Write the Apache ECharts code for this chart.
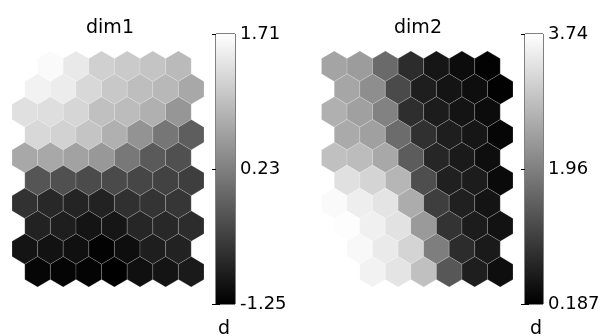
<!DOCTYPE html>
<html>
<head>
<meta charset="utf-8">
<script src="https://cdn.jsdelivr.net/npm/echarts@6/dist/echarts.min.js"></script>
<style>
  html, body { margin: 0; padding: 0; background: #fff; }
  #chart { width: 607px; height: 336px; }
</style>
</head>
<body>
<div id="chart"></div>
<script>
// component planes, rows top to bottom, 7 units per row (odd rows shifted right)
const dim1 = [
  [1.71, 1.652, 1.455, 1.164, 1.095, 1.025, 0.909],
  [1.559, 1.49, 1.257, 1.072, 0.956, 0.886, 0.70],
  [1.35, 1.327, 1.234, 0.979, 0.932, 0.793, 0.491],
  [1.257, 1.188, 1.025, 0.793, 0.456, 0.12, -0.159],
  [0.70, 0.70, 0.63, 0.514, 0.143, -0.205, -0.321],
  [-0.263, -0.321, -0.379, -0.391, -0.437, -0.484, -0.53],
  [-0.67, -0.786, -0.832, -0.855, -0.693, -0.646, -0.623],
  [-0.855, -0.902, -1.018, -0.995, -0.809, -0.786, -0.739],
  [-1.018, -1.041, -1.064, -1.215, -1.087, -0.902, -0.855],
  [-1.18, -1.192, -1.204, -1.25, -1.064, -1.018, -0.948]
]
const dim2 = [
  [2.472, 2.36, 1.664, 0.80, 0.494, 0.354, 0.229],
  [2.50, 2.165, 1.218, 0.605, 0.466, 0.382, 0.215],
  [2.639, 2.416, 1.998, 0.828, 0.577, 0.466, 0.354],
  [2.556, 2.416, 1.692, 0.856, 0.605, 0.494, 0.271],
  [2.862, 2.806, 2.528, 1.469, 0.716, 0.549, 0.382],
  [3.308, 3.141, 2.723, 1.274, 0.633, 0.577, 0.326],
  [3.67, 3.503, 3.364, 2.583, 1.051, 0.633, 0.466],
  [3.712, 3.531, 3.336, 2.333, 0.898, 0.577, 0.438],
  [3.74, 3.642, 3.447, 3.141, 1.943, 0.80, 0.549],
  [3.74, 3.559, 3.364, 2.862, 1.399, 0.605, 0.382]
]
const titles = ['dim1', 'dim2']
const cbar1Ticks = [-1.25, 0.23, 1.71]
const cbar1Labels = ['-1.25', '0.23', '1.71']
const cbar2Ticks = [0.187, 1.96, 3.74]
const cbar2Labels = ['0.187', '1.96', '3.74']
const cbarName = 'd'

const FONT = 'DejaVu Sans'

const toHexData = (plane) => {
  const out = []
  plane.forEach((row, r) => {
    row.forEach((v, c) => out.push([c + (r % 2 ? 0.5 : 0), r, v]))
  })
  return out
}

const hexItem = (params, api) => {
  const x = api.value(0)
  const y = api.value(1)
  const pts = [
    [x, y - 2 / 3], [x + 0.5, y - 1 / 3], [x + 0.5, y + 1 / 3],
    [x, y + 2 / 3], [x - 0.5, y + 1 / 3], [x - 0.5, y - 1 / 3]
  ].map((p) => api.coord(p))
  return {
    type: 'polygon',
    shape: { points: pts },
    style: { fill: api.visual('color'), stroke: 'rgba(255,255,255,0.22)', lineWidth: 0.8 }
  }
}

const barItem = (params, api) => {
  const p0 = api.coord([0, api.value(1)])
  const p1 = api.coord([1, api.value(0)])
  return {
    type: 'rect',
    shape: { x: p0[0], y: p0[1], width: p1[0] - p0[0], height: p1[1] - p0[1] },
    style: {
      fill: new echarts.graphic.LinearGradient(0, 0, 0, 1, [
        { offset: 0, color: '#ffffff' },
        { offset: 1, color: '#000000' }
      ])
    }
  }
}

const cbarAxes = (gridIndex, ticks, labels) => {
  const min = ticks[0]
  const max = ticks[ticks.length - 1]
  const common = {
    gridIndex,
    type: 'value',
    min,
    max,
    axisLine: { show: false },
    splitLine: { show: false },
    axisTick: { show: true, inside: true, length: 4, customValues: ticks, lineStyle: { color: '#000' } }
  }
  return [
    {
      ...common,
      position: 'right',
      axisLabel: {
        show: true,
        customValues: ticks,
        margin: 5,
        color: '#000',
        fontFamily: FONT,
        fontSize: 18,
        formatter: (v) => labels[ticks.indexOf(v)]
      }
    },
    { ...common, position: 'left', axisLabel: { show: false } }
  ]
}

const chart = echarts.init(document.getElementById('chart'))

const cb1 = cbarAxes(2, cbar1Ticks, cbar1Labels)
const cb2 = cbarAxes(3, cbar2Ticks, cbar2Labels)

chart.setOption({
  animation: false,
  backgroundColor: '#fff',
  title: [
    { text: titles[0], left: 105, top: 14, textAlign: 'center', textStyle: { fontFamily: FONT, fontSize: 19, fontWeight: 'normal', color: '#000' } },
    { text: titles[1], left: 413, top: 14, textAlign: 'center', textStyle: { fontFamily: FONT, fontSize: 19, fontWeight: 'normal', color: '#000' } },
    { text: cbarName, left: 219, top: 315, textAlign: 'center', textStyle: { fontFamily: FONT, fontSize: 19, fontWeight: 'normal', color: '#000' } },
    { text: cbarName, left: 531, top: 315, textAlign: 'center', textStyle: { fontFamily: FONT, fontSize: 19, fontWeight: 'normal', color: '#000' } }
  ],
  grid: [
    { left: 12, top: 51, width: 192, height: 236 },
    { left: 321.5, top: 51, width: 191.5, height: 236 },
    { left: 216, top: 34, width: 19, height: 270, show: true, borderColor: '#000', borderWidth: 1 },
    { left: 525, top: 34, width: 18, height: 270, show: true, borderColor: '#000', borderWidth: 1 }
  ],
  xAxis: [
    { gridIndex: 0, type: 'value', min: -0.5, max: 7, show: false },
    { gridIndex: 1, type: 'value', min: -0.5, max: 7, show: false },
    { gridIndex: 2, type: 'value', min: 0, max: 1, show: false },
    { gridIndex: 3, type: 'value', min: 0, max: 1, show: false }
  ],
  yAxis: [
    { gridIndex: 0, type: 'value', inverse: true, min: -2 / 3, max: 9 + 2 / 3, show: false },
    { gridIndex: 1, type: 'value', inverse: true, min: -2 / 3, max: 9 + 2 / 3, show: false },
    cb1[0], cb1[1], cb2[0], cb2[1]
  ],
  visualMap: [
    { type: 'continuous', show: false, seriesIndex: 0, dimension: 2, min: cbar1Ticks[0], max: cbar1Ticks[2], inRange: { color: ['#000000', '#ffffff'] } },
    { type: 'continuous', show: false, seriesIndex: 1, dimension: 2, min: cbar2Ticks[0], max: cbar2Ticks[2], inRange: { color: ['#000000', '#ffffff'] } }
  ],
  series: [
    { type: 'custom', xAxisIndex: 0, yAxisIndex: 0, renderItem: hexItem, data: toHexData(dim1), silent: true },
    { type: 'custom', xAxisIndex: 1, yAxisIndex: 1, renderItem: hexItem, data: toHexData(dim2), silent: true },
    { type: 'custom', xAxisIndex: 2, yAxisIndex: 2, renderItem: barItem, data: [[cbar1Ticks[0], cbar1Ticks[2]]], silent: true, z: 1 },
    { type: 'custom', xAxisIndex: 3, yAxisIndex: 4, renderItem: barItem, data: [[cbar2Ticks[0], cbar2Ticks[2]]], silent: true, z: 1 }
  ]
})
</script>
</body>
</html>
